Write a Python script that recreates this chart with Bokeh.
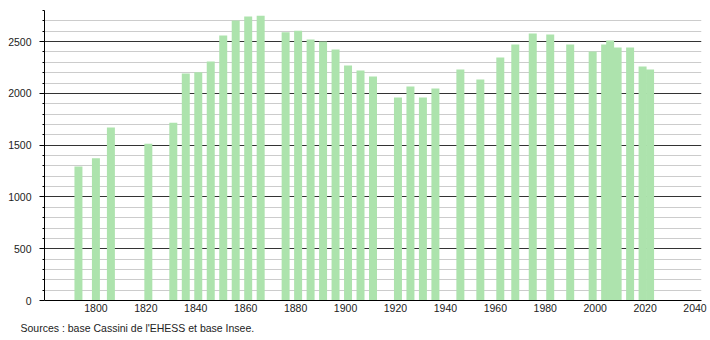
from bokeh.plotting import figure
from bokeh.models import FixedTicker, Range1d, Title
from bokeh.embed import file_html
from bokeh.resources import INLINE

years = [1793, 1800, 1806, 1821, 1831, 1836, 1841, 1846, 1851, 1856, 1861, 1866,
         1876, 1881, 1886, 1891, 1896, 1901, 1906, 1911, 1921, 1926, 1931, 1936,
         1946, 1954, 1962, 1968, 1975, 1982, 1990, 1999, 2004, 2006, 2009, 2014,
         2019, 2022]
population = [1294, 1374, 1670, 1513, 1716, 2192, 2205, 2308, 2559, 2703, 2742, 2749,
              2591, 2604, 2520, 2501, 2423, 2269, 2221, 2163, 1960, 2066, 1960, 2047,
              2230, 2134, 2346, 2472, 2578, 2568, 2472, 2404, 2472, 2510, 2443, 2443,
              2259, 2230]
x_ticks = [1800, 1820, 1840, 1860, 1880, 1900, 1920, 1940, 1960, 1980, 2000, 2020, 2040]
y_ticks = [0, 500, 1000, 1500, 2000, 2500]
y_minor = [100, 200, 300, 400, 600, 700, 800, 900, 1100, 1200, 1300, 1400,
           1600, 1700, 1800, 1900, 2100, 2200, 2300, 2400, 2600, 2700, 2800]
source_text = "Sources : base Cassini de l'EHESS et base Insee."

FONT = "Liberation Sans"
FSIZE = "10.5px"

p = figure(width=710, height=340, output_backend="svg", toolbar_location=None,
           x_range=Range1d(1779.4, 2042.6), y_range=Range1d(0, 2800),
           min_border_left=44, min_border_right=9, min_border_top=10,
           min_border_bottom=40)
p.outline_line_color = None
p.background_fill_color = "white"
p.border_fill_color = "white"

p.xgrid.visible = False
p.ygrid.ticker = FixedTicker(ticks=y_ticks, minor_ticks=y_minor)
p.ygrid.grid_line_color = "#333333"
p.ygrid.grid_line_width = 1
p.ygrid.minor_grid_line_color = "#cccccc"
p.ygrid.minor_grid_line_width = 1

p.vbar(x=years, top=population, width=3.2, bottom=0,
       fill_color="#ade3ad", line_color=None)

yax = p.yaxis[0]
yax.ticker = FixedTicker(ticks=y_ticks, minor_ticks=y_minor)
yax.major_tick_out = 5
yax.major_tick_in = 0
yax.minor_tick_out = 2
yax.minor_tick_in = 0
yax.axis_line_color = "black"
yax.major_tick_line_color = "black"
yax.minor_tick_line_color = "black"
yax.major_label_standoff = 8
yax.major_label_text_font = FONT
yax.major_label_text_font_size = FSIZE
yax.major_label_text_color = "#222222"

xax = p.xaxis[0]
xax.ticker = FixedTicker(ticks=x_ticks)
xax.major_tick_out = 0
xax.major_tick_in = 0
xax.minor_tick_out = 0
xax.minor_tick_in = 0
xax.axis_line_color = "black"
xax.major_label_standoff = 3
xax.major_label_text_font = FONT
xax.major_label_text_font_size = FSIZE
xax.major_label_text_color = "#222222"

p.add_layout(Title(text=source_text, align="left", offset=-24,
                   text_font=FONT, text_font_size=FSIZE,
                   text_font_style="normal", text_color="#222222"), "below")

open("out.html", "w").write(file_html(p, INLINE))
